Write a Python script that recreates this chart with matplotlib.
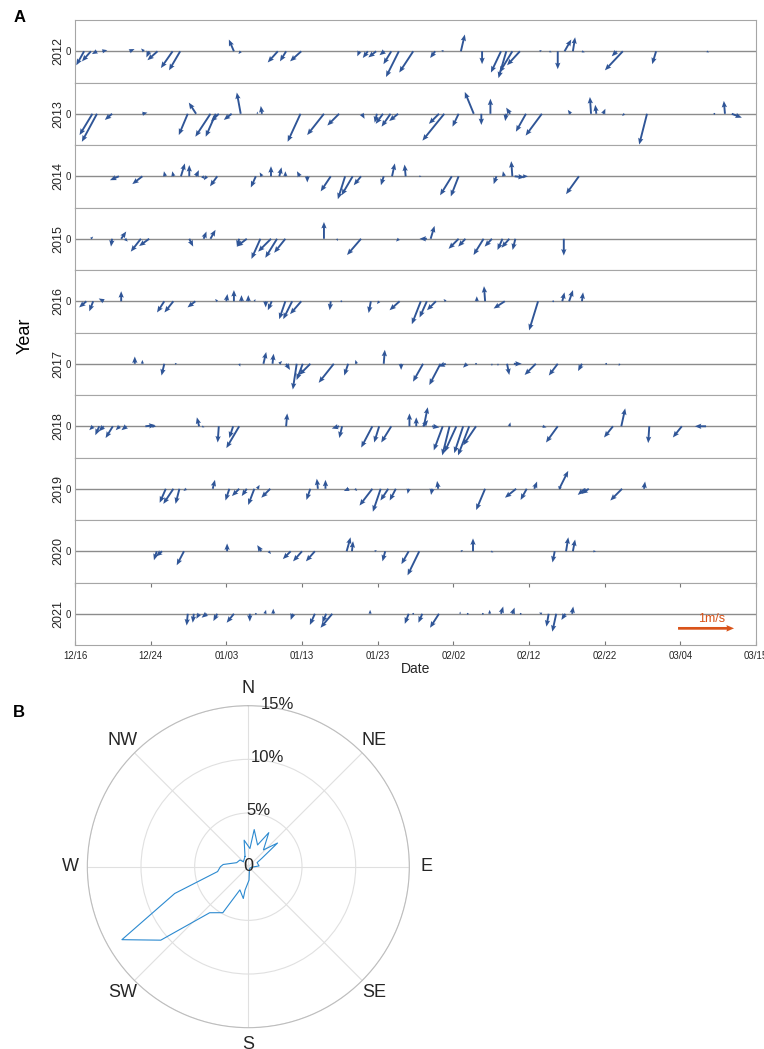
import numpy as np
import matplotlib
matplotlib.use("Agg")
import matplotlib.pyplot as plt

plt.rcParams['font.family'] = ['Liberation Sans', 'DejaVu Sans']

# ---- panel A data: day offset from 12/16, u (east) and v (north) in m/s ----
years = [2012, 2013, 2014, 2015, 2016, 2017, 2018, 2019, 2020, 2021]
date_labels = ['12/16', '12/24', '01/03', '01/13', '01/23', '02/02',
               '02/12', '02/22', '03/04', '03/15']

day_2012 = [1.2, 2.1, 2.9, 3.6, 7.2, 9.1, 9.8, 10.9, 12.9, 13.9, 21.0, 21.9, 26.8, 27.9,
            29.9, 37.6, 38.7, 39.8, 40.9, 41.8, 42.8, 44.7, 47.6, 48.7, 51.0, 53.8, 56.3,
            57.0, 57.8, 58.8, 61.4, 62.7, 63.8, 64.7, 65.8, 67.0, 71.6, 72.4, 76.8, 83.5]
u_2012 = [-0.14, -0.16, -0.09, 0.09, 0.09, -0.05, -0.05, -0.18, -0.21, -0.20, -0.09, -0.04,
          -0.18, -0.11, -0.20, -0.04, -0.09, -0.14, -0.09, -0.14, -0.23, -0.25, -0.09, -0.04,
          0.07, 0.0, -0.18, -0.14, -0.23, -0.23, 0.04, 0.04, 0.0, 0.12, 0.04, 0.05, -0.09,
          -0.32, -0.07, 0.04]
v_2012 = [-0.25, -0.18, -0.05, 0.02, 0.04, 0.05, -0.11, -0.16, -0.30, -0.34, 0.21, -0.05,
          -0.20, -0.18, -0.18, -0.09, -0.12, -0.11, -0.07, -0.23, -0.46, -0.38, -0.12, 0.02,
          0.30, -0.23, -0.38, -0.48, -0.38, -0.25, 0.02, -0.02, -0.32, 0.21, 0.25, -0.02,
          -0.09, -0.34, -0.23, -0.02]

day_2013 = [2.3, 2.9, 4.9, 8.9, 14.9, 16.0, 17.9, 18.6, 19.0, 20.7, 21.9, 24.1, 24.7, 29.8,
            32.9, 34.9, 37.9, 39.9, 40.7, 41.7, 42.7, 48.1, 48.8, 50.7, 52.7, 53.7, 54.9,
            57.0, 57.5, 59.6, 61.7, 65.5, 68.2, 68.9, 69.8, 72.6, 75.6, 84.5, 85.9, 86.8]
u_2013 = [-0.23, -0.27, -0.13, 0.09, -0.16, -0.13, -0.27, -0.18, -0.14, -0.14, -0.07, 0.0,
          -0.02, -0.23, -0.30, -0.21, 0.05, -0.04, -0.13, -0.16, -0.16, -0.18, -0.39, -0.11,
          -0.16, 0.0, 0.0, -0.02, -0.07, -0.18, -0.29, -0.05, -0.02, -0.02, 0.04, -0.04,
          -0.14, 0.03, -0.02, 0.18]
v_2013 = [-0.38, -0.50, -0.11, 0.02, -0.38, 0.20, -0.41, -0.41, -0.14, -0.11, 0.38, 0.04,
          0.14, -0.50, -0.38, -0.21, -0.09, -0.16, -0.18, -0.23, -0.13, -0.18, -0.48, -0.23,
          0.39, -0.20, 0.27, -0.13, 0.11, -0.32, -0.39, 0.07, 0.30, 0.16, 0.09, -0.04,
          -0.55, 0.0, 0.23, -0.07]

day_2014 = [5.8, 8.9, 11.9, 13.0, 14.0, 15.1, 16.0, 16.8, 17.4, 18.8, 23.9, 24.7, 25.9,
            27.0, 27.8, 29.7, 30.7, 33.8, 35.7, 36.7, 37.8, 40.8, 41.9, 43.7, 45.5, 49.8,
            50.7, 55.7, 56.7, 57.8, 58.1, 59.2, 66.6]
u_2014 = [-0.16, -0.18, -0.02, -0.02, 0.07, 0.0, 0.05, 0.05, -0.05, -0.13, -0.09, -0.04,
          0.0, 0.04, 0.0, -0.05, 0.0, -0.18, -0.13, -0.20, -0.13, -0.05, 0.05, -0.02, 0.04,
          -0.21, -0.14, -0.05, -0.02, -0.02, 0.18, 0.09, -0.23]
v_2014 = [-0.07, -0.14, 0.09, 0.09, 0.23, 0.20, 0.11, -0.05, -0.07, -0.18, -0.20, 0.07,
          0.18, 0.16, 0.09, 0.09, -0.11, -0.27, -0.41, -0.34, -0.16, -0.16, 0.23, 0.21, 0.0,
          -0.34, -0.36, -0.14, 0.09, 0.27, -0.02, 0.0, -0.32]

day_2015 = [2.1, 4.9, 6.1, 6.6, 8.7, 9.8, 15.1, 17.0, 17.9, 21.7, 22.7, 24.5, 25.9, 26.7,
            27.8, 32.9, 34.6, 37.8, 42.8, 46.5, 47.0, 50.7, 51.6, 54.0, 55.1, 56.5, 57.4,
            58.2, 64.6]
u_2015 = [0.04, -0.02, 0.09, 0.05, -0.18, -0.18, 0.07, 0.05, 0.09, -0.04, -0.18, -0.16,
          -0.23, -0.21, -0.20, 0.0, 0.02, -0.25, -0.05, -0.13, 0.07, -0.18, -0.13, -0.18,
          -0.13, -0.09, -0.14, -0.05, 0.0]
v_2015 = [0.04, -0.14, 0.13, -0.05, -0.23, -0.13, -0.14, 0.13, 0.16, -0.14, -0.14, -0.36,
          -0.23, -0.34, -0.25, 0.30, -0.04, -0.29, -0.05, 0.0, 0.23, -0.18, -0.14, -0.29,
          -0.14, -0.20, -0.16, -0.20, -0.30]

day_2016 = [1.5, 2.4, 3.8, 6.1, 11.8, 13.0, 15.9, 18.8, 20.0, 21.0, 22.0, 22.9, 23.7, 25.2,
            26.0, 27.8, 28.7, 29.9, 33.8, 35.2, 39.1, 40.2, 42.9, 45.7, 46.5, 47.7, 49.0,
            53.1, 54.2, 56.8, 61.2, 63.2, 64.4, 65.3, 67.0]
u_2016 = [-0.13, -0.07, -0.09, 0.0, -0.13, -0.16, -0.14, -0.04, 0.02, 0.0, 0.0, 0.0, 0.02,
          0.0, -0.07, -0.11, -0.16, -0.20, -0.02, 0.02, -0.04, -0.04, -0.18, -0.16, -0.13,
          -0.16, -0.04, 0.0, -0.02, -0.20, -0.16, 0.02, 0.04, 0.07, 0.02]
v_2016 = [-0.11, -0.18, 0.05, 0.18, -0.20, -0.20, -0.11, 0.04, 0.13, 0.20, 0.11, 0.11,
          0.04, -0.11, -0.16, -0.32, -0.32, -0.23, -0.16, -0.02, -0.21, -0.05, -0.16, -0.41,
          -0.29, -0.16, 0.04, 0.09, 0.27, -0.13, -0.52, 0.02, 0.16, 0.20, 0.16]

day_2017 = [7.9, 8.9, 11.8, 13.2, 21.7, 24.9, 26.1, 27.0, 27.9, 29.3, 30.1, 31.1, 34.2,
            36.1, 37.2, 40.8, 43.1, 46.0, 48.3, 49.0, 51.8, 53.0, 55.1, 55.9, 57.1, 58.0,
            60.9, 63.8, 67.0, 70.2, 72.0]
u_2017 = [0.0, 0.0, -0.05, 0.04, 0.02, 0.05, 0.02, 0.05, 0.07, -0.07, -0.11, -0.20, -0.27,
          -0.07, -0.02, 0.02, 0.0, -0.18, -0.20, -0.13, -0.07, 0.03, 0.0, 0.0, 0.04, 0.14,
          -0.20, -0.16, -0.07, 0.0, -0.02]
v_2017 = [0.13, 0.07, -0.21, 0.0, -0.05, 0.21, 0.18, 0.05, -0.11, -0.46, -0.29, -0.20,
          -0.34, -0.21, 0.07, 0.25, -0.11, -0.32, -0.38, -0.05, -0.07, 0.0, -0.04, -0.04,
          -0.20, 0.0, -0.20, -0.21, -0.13, -0.02, -0.04]

day_2018 = [2.4, 3.2, 3.8, 5.0, 5.9, 6.8, 9.3, 10.2, 16.4, 16.8, 19.0, 20.9, 21.7, 27.9,
            34.9, 35.3, 39.3, 40.2, 41.8, 44.2, 45.1, 46.0, 46.1, 47.2, 48.6, 49.5, 50.4,
            51.3, 52.1, 53.0, 57.4, 61.8, 63.8, 71.1, 72.2, 75.9, 80.2, 83.4]
u_2018 = [-0.07, -0.07, -0.09, -0.13, -0.07, -0.09, 0.18, 0.07, -0.04, 0.04, -0.02, -0.07,
          -0.23, 0.02, -0.13, -0.05, -0.20, -0.09, -0.18, 0.0, 0.0, 0.09, 0.07, 0.13, -0.16,
          -0.13, -0.21, -0.16, -0.20, -0.23, 0.02, 0.07, -0.21, -0.16, 0.07, -0.02, -0.16,
          -0.20]
v_2018 = [-0.07, -0.16, -0.09, -0.21, -0.07, -0.07, 0.02, 0.0, 0.16, -0.02, -0.29, -0.21,
          -0.39, 0.23, -0.04, -0.21, -0.38, -0.29, -0.29, 0.23, 0.16, 0.11, 0.34, -0.02,
          -0.43, -0.52, -0.46, -0.48, -0.52, -0.34, 0.07, -0.02, -0.29, -0.20, 0.32, -0.30,
          -0.20, 0.0]

day_2019 = [12.0, 13.0, 13.8, 14.7, 18.2, 20.4, 21.7, 22.7, 23.7, 24.1, 25.8, 31.1, 32.1,
            33.1, 36.2, 37.0, 39.3, 40.4, 41.4, 42.4, 44.1, 47.2, 48.0, 54.2, 58.3, 59.7,
            60.7, 64.0, 64.2, 67.4, 67.9, 72.3, 75.2]
u_2019 = [-0.11, -0.18, -0.07, -0.05, 0.04, -0.07, -0.13, -0.09, -0.11, 0.04, -0.16, -0.07,
          -0.02, 0.0, -0.09, 0.04, -0.23, -0.14, -0.14, -0.11, -0.02, -0.02, -0.02, -0.16,
          -0.20, -0.11, 0.05, 0.16, -0.05, -0.13, -0.13, -0.21, 0.02]
v_2019 = [-0.25, -0.27, -0.27, -0.04, 0.16, -0.21, -0.13, -0.13, -0.29, 0.07, -0.16, -0.20,
          0.18, 0.16, -0.04, -0.04, -0.30, -0.41, -0.21, -0.21, -0.09, -0.11, 0.14, -0.38,
          -0.16, -0.20, 0.13, 0.32, 0.05, -0.11, -0.09, -0.21, 0.13]

day_2020 = [10.8, 11.5, 14.4, 20.1, 24.6, 25.6, 28.5, 30.0, 31.7, 35.9, 36.6, 39.6, 41.0,
            44.1, 45.5, 51.0, 52.6, 55.0, 63.4, 64.9, 65.8, 68.5]
u_2020 = [-0.05, -0.11, -0.13, 0.0, -0.07, 0.04, -0.14, -0.16, -0.16, 0.07, 0.02, 0.04,
          -0.05, -0.13, -0.21, 0.04, 0.0, 0.04, -0.04, 0.04, 0.04, 0.05]
v_2020 = [-0.16, -0.09, -0.25, 0.14, 0.11, -0.05, -0.14, -0.18, -0.18, 0.25, 0.18, 0.02,
          -0.18, -0.23, -0.43, 0.02, 0.23, -0.02, -0.20, 0.25, 0.21, 0.0]

day_2021 = [14.9, 15.7, 16.4, 17.4, 18.8, 21.0, 23.1, 23.9, 25.1, 26.2, 28.8, 31.7, 33.2,
            34.0, 39.0, 44.1, 44.7, 45.9, 48.1, 50.9, 51.9, 53.9, 54.8, 56.3, 57.8, 58.9,
            61.7, 62.6, 63.6, 64.8, 65.7]
u_2021 = [-0.02, -0.02, -0.05, -0.09, -0.07, -0.13, 0.0, 0.02, 0.02, 0.0, -0.04, -0.09,
          -0.07, -0.21, 0.0, -0.07, -0.02, -0.07, -0.16, 0.0, 0.02, 0.02, 0.0, 0.04, 0.04,
          0.02, -0.05, -0.04, -0.07, -0.07, 0.02]
v_2021 = [-0.21, -0.16, -0.09, -0.07, -0.13, -0.16, -0.14, 0.02, 0.07, 0.09, -0.11, -0.20,
          -0.16, -0.25, 0.07, -0.18, 0.02, -0.16, -0.25, 0.04, -0.02, 0.02, 0.07, 0.13, 0.11,
          -0.02, 0.02, -0.23, -0.32, -0.11, 0.13]

day_all = [day_2012, day_2013, day_2014, day_2015, day_2016,
           day_2017, day_2018, day_2019, day_2020, day_2021]
u_all = [u_2012, u_2013, u_2014, u_2015, u_2016, u_2017, u_2018, u_2019, u_2020, u_2021]
v_all = [v_2012, v_2013, v_2014, v_2015, v_2016, v_2017, v_2018, v_2019, v_2020, v_2021]

# ---- panel B data: wind direction frequency (compass bearing, %) ----
rose_dir = [342, 351, 5, 9, 23, 31, 42, 51, 58, 65, 86, 100, 130, 160, 177, 188, 189, 200,
            209, 220, 230, 240, 250, 261, 270, 275, 289, 309, 315]
rose_pct = [1.0, 2.5, 1.7, 3.5, 2.2, 3.7, 2.1, 3.5, 1.5, 0.9, 1.0, 0.3, 0.2, 0.3, 1.25,
            2.2, 3.0, 2.3, 4.9, 5.6, 10.65, 13.6, 7.3, 2.9, 2.6, 2.35, 1.15, 1.0, 0.65]

ARROW = '#2F5597'
LEGEND = '#D95319'
DAYS_PER_MS = 7.4          # 1 m/s drawn as long as 7.4 days on the x axis
YLIM = 0.558

fig = plt.figure(figsize=(7.64, 10.49), dpi=100)
left, right, top, bottom = 0.0982, 0.9895, 0.9809, 0.3851
row_h = (top - bottom) / len(years)

for i, yr in enumerate(years):
    ax = fig.add_axes([left, top - (i + 1) * row_h, right - left, row_h])
    d = np.array(day_all[i])
    u = np.array(u_all[i])
    v = np.array(v_all[i])
    ax.axhline(0, color='#8c8c8c', lw=1.0, zorder=1)
    ax.quiver(d, np.zeros_like(d), u * DAYS_PER_MS, v, angles='xy', scale_units='xy',
              scale=1, color=ARROW, width=0.0028, headwidth=2.8, headlength=3.4,
              headaxislength=3.0, zorder=3)
    ax.set_xlim(0, 90)
    ax.set_ylim(-YLIM, YLIM)
    ax.set_yticks([0])
    ax.set_yticklabels(['0'], fontsize=7, color='#262626')
    ax.tick_params(axis='y', length=0, pad=3)
    ax.set_ylabel(str(yr), fontsize=9, labelpad=1, color='#262626')
    for s in ax.spines.values():
        s.set_color('#a6a6a6')
        s.set_linewidth(0.8)
    if i == len(years) - 1:
        ax.set_xticks(np.arange(0, 91, 10))
        ax.set_xticklabels(date_labels, fontsize=7, color='#262626')
        ax.tick_params(axis='x', direction='in', length=3, top=True, color='#777777', pad=4)
        ax.set_xlabel('Date', fontsize=10, labelpad=1, color='#262626')
        ax.quiver([79.7], [-0.26], [1.0 * DAYS_PER_MS], [0.0], angles='xy',
                  scale_units='xy', scale=1, color=LEGEND, width=0.004, headwidth=2.4,
                  headlength=2.8, headaxislength=2.6, zorder=4)
        ax.text(84.2, -0.09, '1m/s', color=LEGEND, fontsize=9, ha='center', va='center')
    else:
        ax.set_xticks([])

fig.text(0.033, 0.68, 'Year', rotation=90, fontsize=13, ha='center', va='center')
fig.text(0.025, 0.983, 'A', fontsize=12, fontweight='bold', ha='center', va='center')
fig.text(0.025, 0.321, 'B', fontsize=12, fontweight='bold', ha='center', va='center')

# ---- panel B: polar rose ----
pax = fig.add_axes([0.1143, 0.0203, 0.4215, 0.307], projection='polar')
pax.set_theta_zero_location('N')
pax.set_theta_direction(-1)
th = np.deg2rad(np.array(rose_dir + rose_dir[:1]))
r = np.array(rose_pct + rose_pct[:1])
pax.plot(th, r, color='#2C8AD0', lw=0.8)
pax.set_ylim(0, 15)
pax.set_yticks([5, 10, 15])
pax.set_yticklabels([])
pax.set_xticks(np.deg2rad(np.arange(0, 360, 45)))
pax.set_xticklabels([])
pax.grid(color='#e0e0e0', lw=0.8)
pax.spines['polar'].set_color('#bdbdbd')
pax.spines['polar'].set_linewidth(0.8)
for rv, lab in zip([5, 10, 15], ['5%', '10%', '15%']):
    pax.text(np.deg2rad(10), rv + 0.35, lab, fontsize=12, color='#262626',
             ha='center', va='center')
pax.text(0, 0, '0', fontsize=13, color='#262626', ha='center', va='center')
for ang, lab in zip(range(0, 360, 45), ['N', 'NE', 'E', 'SE', 'S', 'SW', 'W', 'NW']):
    pax.text(np.deg2rad(ang), 16.6, lab, fontsize=13, color='#262626',
             ha='center', va='center', clip_on=False)

fig.savefig('out.png', dpi=100)
